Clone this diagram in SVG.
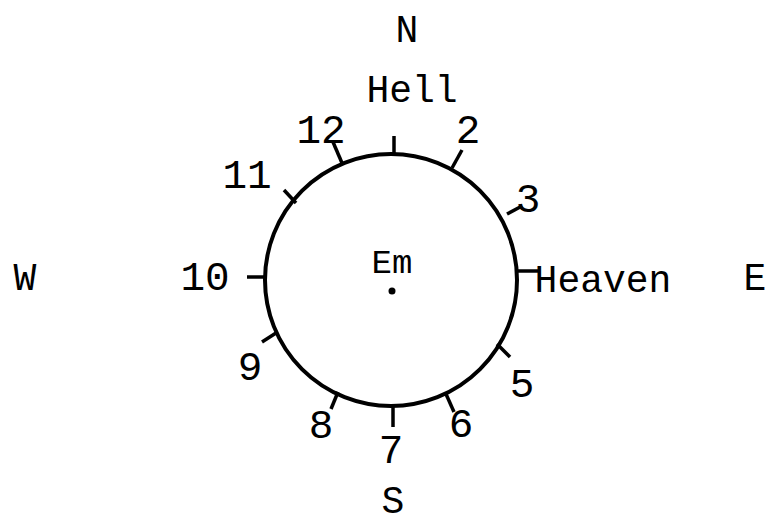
<svg xmlns="http://www.w3.org/2000/svg" width="767" height="523" viewBox="0 0 767 523">
<style>
text{font-family:"Liberation Mono","DejaVu Sans Mono",monospace;fill:#000;text-anchor:middle}
.w{font-size:38px}
.d{font-size:41px}
.em{font-size:34px}
.tick{stroke:#000;stroke-width:3.5;stroke-linecap:butt}
</style>
<rect width="767" height="523" fill="#fff"/>
<g id="compass">
<text class="w" x="407" y="42">N</text>
<text class="w" x="25" y="290">W</text>
<text class="w" x="755" y="290">E</text>
<text class="w" x="393" y="513">S</text>
</g>
<g id="circle">
<circle cx="391" cy="280" r="126" fill="none" stroke="#000" stroke-width="4"/>
<circle cx="392" cy="291" r="3.5" fill="#000"/>
<text class="em" x="392" y="273">Em</text>
</g>
<g id="connectors">
<line class="tick" x1="394" y1="136" x2="394" y2="155"/>
<line class="tick" x1="333" y1="142" x2="342" y2="163"/>
<line class="tick" x1="462" y1="150" x2="452" y2="168"/>
<line class="tick" x1="284" y1="190" x2="296" y2="203"/>
<line class="tick" x1="522" y1="206" x2="507" y2="214"/>
<line class="tick" x1="247" y1="277" x2="265" y2="277"/>
<line class="tick" x1="517" y1="271" x2="538" y2="271"/>
<line class="tick" x1="262" y1="342" x2="276" y2="333"/>
<line class="tick" x1="497" y1="344" x2="510" y2="357"/>
<line class="tick" x1="446" y1="394" x2="454" y2="412"/>
<line class="tick" x1="338" y1="392" x2="331" y2="409"/>
<line class="tick" x1="393" y1="405" x2="393" y2="427"/>
</g>
<g id="labels">
<text class="w" x="412" y="102">Hell</text>
<text class="w" x="603" y="292">Heaven</text>
<text class="d" x="321" y="143">12</text>
<text class="d" x="468" y="143">2</text>
<text class="d" x="247" y="188">11</text>
<text class="d" x="528" y="212">3</text>
<text class="d" x="205" y="290">10</text>
<text class="d" x="250" y="380">9</text>
<text class="d" x="522" y="397">5</text>
<text class="d" x="321" y="438">8</text>
<text class="d" x="391" y="463">7</text>
<text class="d" x="461" y="437">6</text>
</g>
</svg>
